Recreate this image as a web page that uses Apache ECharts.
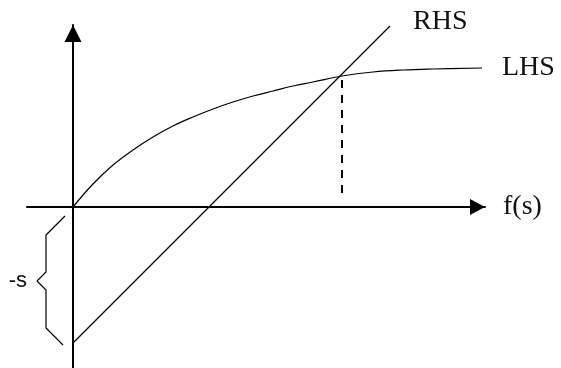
<!DOCTYPE html>
<html>
<head>
<meta charset="utf-8">
<script src="https://cdn.jsdelivr.net/npm/echarts@6/dist/echarts.min.js"></script>
<style>html,body{margin:0;padding:0;background:#fff}#c{width:561px;height:368px}</style>
</head>
<body>
<div id="c"></div>
<script>
// LHS curve
const lhsX = [0, 2, 4, 6, 8, 10, 12, 14, 16, 18, 20, 22, 24, 26.9, 30, 33, 36, 40.9];
const lhsY = [0, 2.3, 4.2, 5.7, 7.0, 8.1, 9.0, 9.8, 10.5, 11.1, 11.6, 12.1, 12.5, 13.1, 13.5, 13.7, 13.8, 13.9];
// RHS line
const rhsX = [0, 31.7];
const rhsY = [-13.6, 18.1];
// dashed drop line at the intersection
const dropX = [26.9, 26.9];
const dropY = [12.7, 0.9];
// brace marking -s
const braceX = [-0.8, -2.7, -2.7, -3.6, -2.7, -2.7, -1.0];
const braceY = [-0.9, -2.8, -6.5, -7.4, -8.3, -12.1, -13.8];
const braceLabelIndex = 3;
const labels = { rhs: 'RHS', lhs: 'LHS', xName: 'f(s)', brace: '-s' };

const zip = (xs, ys) => xs.map((x, i) => [x, ys[i]]);
const serif = 'Liberation Serif';

const chart = echarts.init(document.getElementById('c'), null, { renderer: 'canvas' });
chart.setOption({
  animation: false,
  grid: { left: 27, right: 76, top: 25, bottom: 0, containLabel: false },
  xAxis: {
    type: 'value', min: -4.6, max: 41.2,
    name: labels.xName, nameLocation: 'end', nameGap: 18,
    nameTextStyle: { fontFamily: serif, fontSize: 28, color: '#111', verticalAlign: 'middle' },
    axisLine: { show: true, onZero: true, symbol: ['none', 'triangle'], symbolSize: [16, 15], symbolOffset: [0, -7.5],
      lineStyle: { color: '#000', width: 2 } },
    axisTick: { show: false }, axisLabel: { show: false }, splitLine: { show: false }
  },
  yAxis: {
    type: 'value', min: -16.1, max: 18.2,
    axisLine: { show: true, onZero: true, symbol: ['none', 'triangle'], symbolSize: [17, 17], symbolOffset: [0, -8.5],
      lineStyle: { color: '#000', width: 2 } },
    axisTick: { show: false }, axisLabel: { show: false }, splitLine: { show: false }
  },
  series: [
    {
      name: labels.lhs, type: 'line', data: zip(lhsX, lhsY), smooth: 0.4, showSymbol: false, clip: false,
      lineStyle: { color: '#000', width: 1.2 },
      endLabel: { show: true, formatter: labels.lhs, distance: 20, fontFamily: serif, fontSize: 28, color: '#111' }
    },
    {
      name: labels.rhs, type: 'line', data: zip(rhsX, rhsY), showSymbol: false, clip: false,
      lineStyle: { color: '#000', width: 1.2 },
      endLabel: { show: true, formatter: labels.rhs, distance: 23, offset: [0, -4], fontFamily: serif, fontSize: 28, color: '#111' }
    },
    {
      type: 'line', data: zip(dropX, dropY), showSymbol: false,
      lineStyle: { color: '#000', width: 2, type: [8, 7] }
    },
    {
      type: 'line', data: zip(braceX, braceY), showSymbol: true, symbol: 'circle', symbolSize: 0, clip: false,
      lineStyle: { color: '#000', width: 1.2 },
      label: { show: true, position: 'left', distance: 10,
        formatter: p => p.dataIndex === braceLabelIndex ? labels.brace : '',
        fontFamily: 'Liberation Sans', fontSize: 22, color: '#111' }
    }
  ]
});
</script>
</body>
</html>
